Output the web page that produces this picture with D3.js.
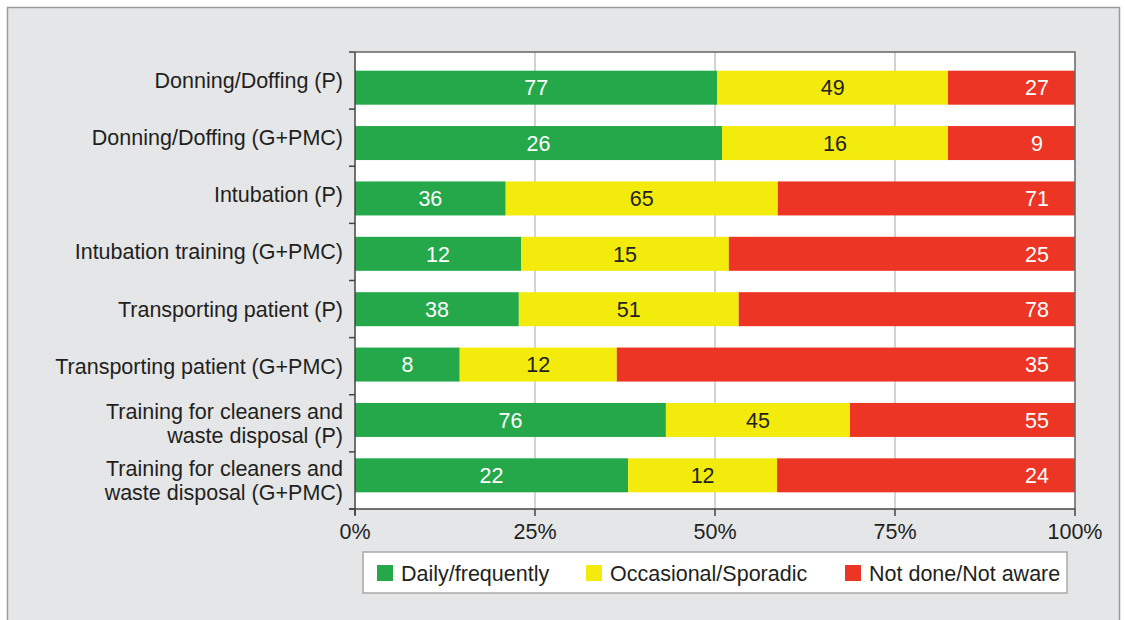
<!DOCTYPE html>
<html>
<head>
<meta charset="utf-8">
<script src="https://cdn.jsdelivr.net/npm/d3@7"></script>
<style>
  body { margin: 0; background: #fff; }
  svg { display: block; font-family: "Liberation Sans", Arial, sans-serif; }
</style>
</head>
<body>
<svg id="chart" width="1125" height="620"></svg>
<script>
// categories, top to bottom (label lines)
const categories = [
  ["Donning/Doffing (P)"],
  ["Donning/Doffing (G+PMC)"],
  ["Intubation (P)"],
  ["Intubation training (G+PMC)"],
  ["Transporting patient (P)"],
  ["Transporting patient (G+PMC)"],
  ["Training for cleaners and", "waste disposal (P)"],
  ["Training for cleaners and", "waste disposal (G+PMC)"]
]
const seriesNames = ["Daily/frequently", "Occasional/Sporadic", "Not done/Not aware"]
const daily      = [77, 26, 36, 12, 38, 8, 76, 22]
const occasional = [49, 16, 65, 15, 51, 12, 45, 12]
const notDone    = [27, 9, 71, 25, 78, 35, 55, 24]
const tickValues = [0, 0.25, 0.5, 0.75, 1]

const colors = ["#24a84a", "#f3eb0c", "#ec3524"]
const textColors = ["#fff", "#222", "#fff"]
const fs = 21.5

const svg = d3.select("#chart")
const W = 1125, H = 620
const pLeft = 355, pRight = 1075, pTop = 52, pBottom = 509

// outer panel
svg.append("rect").attr("x", 7.5).attr("y", 7.5).attr("width", W - 13).attr("height", H)
  .attr("fill", "#e5e6e8").attr("stroke", "#9a9a9a").attr("stroke-width", 1.5)

const idx = d3.range(categories.length)
const x = d3.scaleLinear().domain([0, 1]).range([pLeft, pRight])
const yLab = d3.scaleBand().domain(idx).range([pTop, pBottom])
const yBar = d3.scaleBand().domain(idx).range([60, 503]).paddingInner(0.386).paddingOuter(0.193)

// plot background
svg.append("rect").attr("x", pLeft).attr("y", pTop).attr("width", pRight - pLeft).attr("height", pBottom - pTop)
  .attr("fill", "#fff")

// gridlines
svg.append("g").selectAll("line").data(tickValues.slice(1, -1)).join("line")
  .attr("x1", d => x(d)).attr("x2", d => x(d)).attr("y1", pTop).attr("y2", pBottom)
  .attr("stroke", "#c4c4c4").attr("stroke-width", 1.5)

// stack data
const rows = idx.map(i => {
  const vals = [daily[i], occasional[i], notDone[i]]
  const total = d3.sum(vals)
  let cum = 0
  return vals.map((v, s) => {
    const seg = {i, s, v, x0: cum / total, x1: (cum + v) / total}
    cum += v
    return seg
  })
}).flat()

const bars = svg.append("g")
bars.selectAll("rect").data(rows).join("rect")
  .attr("x", d => x(d.x0)).attr("width", d => x(d.x1) - x(d.x0))
  .attr("y", d => yBar(d.i)).attr("height", yBar.bandwidth())
  .attr("fill", d => colors[d.s])

bars.selectAll("text").data(rows).join("text")
  .attr("x", d => d.s === 2 ? x(d.x1) - 38 : (x(d.x0) + x(d.x1)) / 2)
  .attr("y", d => yBar(d.i) + yBar.bandwidth() / 2)
  .attr("dy", "0.36em")
  .attr("text-anchor", "middle")
  .attr("font-size", fs)
  .attr("fill", d => textColors[d.s])
  .text(d => d.v)

// frame: top and right
svg.append("path").attr("d", `M${pLeft},${pTop}H${pRight}V${pBottom}`)
  .attr("fill", "none").attr("stroke", "#666").attr("stroke-width", 1.5)

// y axis
const yAxis = svg.append("g")
yAxis.append("line").attr("x1", pLeft).attr("x2", pLeft).attr("y1", pTop).attr("y2", pBottom + 6)
  .attr("stroke", "#444").attr("stroke-width", 1.5)
yAxis.selectAll("line.tick").data(d3.range(categories.length + 1)).join("line").attr("class", "tick")
  .attr("x1", pLeft - 6).attr("x2", pLeft)
  .attr("y1", d => pTop + d * yLab.step()).attr("y2", d => pTop + d * yLab.step())
  .attr("stroke", "#444").attr("stroke-width", 1.5)

const labs = yAxis.selectAll("text").data(idx).join("text")
  .attr("text-anchor", "end").attr("font-size", fs).attr("fill", "#231f20")
labs.each(function(i) {
  const lines = categories[i]
  const cy = yLab(i) + yLab.bandwidth() / 2
  d3.select(this).selectAll("tspan").data(lines).join("tspan")
    .attr("x", 343)
    .attr("y", (d, k) => cy + (k - (lines.length - 1) / 2) * 24)
    .attr("dy", "0.35em")
    .text(d => d)
})

// x axis
const xAxis = svg.append("g")
xAxis.append("line").attr("x1", pLeft - 6).attr("x2", pRight).attr("y1", pBottom).attr("y2", pBottom)
  .attr("stroke", "#444").attr("stroke-width", 1.5)
xAxis.selectAll("line.tick").data(tickValues).join("line").attr("class", "tick")
  .attr("x1", d => x(d)).attr("x2", d => x(d)).attr("y1", pBottom).attr("y2", pBottom + 7)
  .attr("stroke", "#444").attr("stroke-width", 1.5)
xAxis.selectAll("text").data(tickValues).join("text")
  .attr("x", d => x(d)).attr("y", 539)
  .attr("text-anchor", "middle").attr("font-size", fs).attr("fill", "#231f20")
  .text(d3.format(".0%"))

// legend
const lg = svg.append("g")
lg.append("rect").attr("x", 363).attr("y", 552).attr("width", 704).attr("height", 41)
  .attr("fill", "#fff").attr("stroke", "#a8a8a8").attr("stroke-width", 1.5)
const legX = [377, 586, 845]
const items = lg.selectAll("g.item").data(seriesNames).join("g").attr("class", "item")
  .attr("transform", (d, i) => `translate(${legX[i]},565)`)
items.append("rect").attr("width", 16).attr("height", 16).attr("fill", (d, i) => colors[i])
items.append("text").attr("x", 24).attr("y", 8).attr("dy", "0.36em")
  .attr("font-size", fs).attr("fill", "#231f20").text(d => d)
</script>
</body>
</html>
